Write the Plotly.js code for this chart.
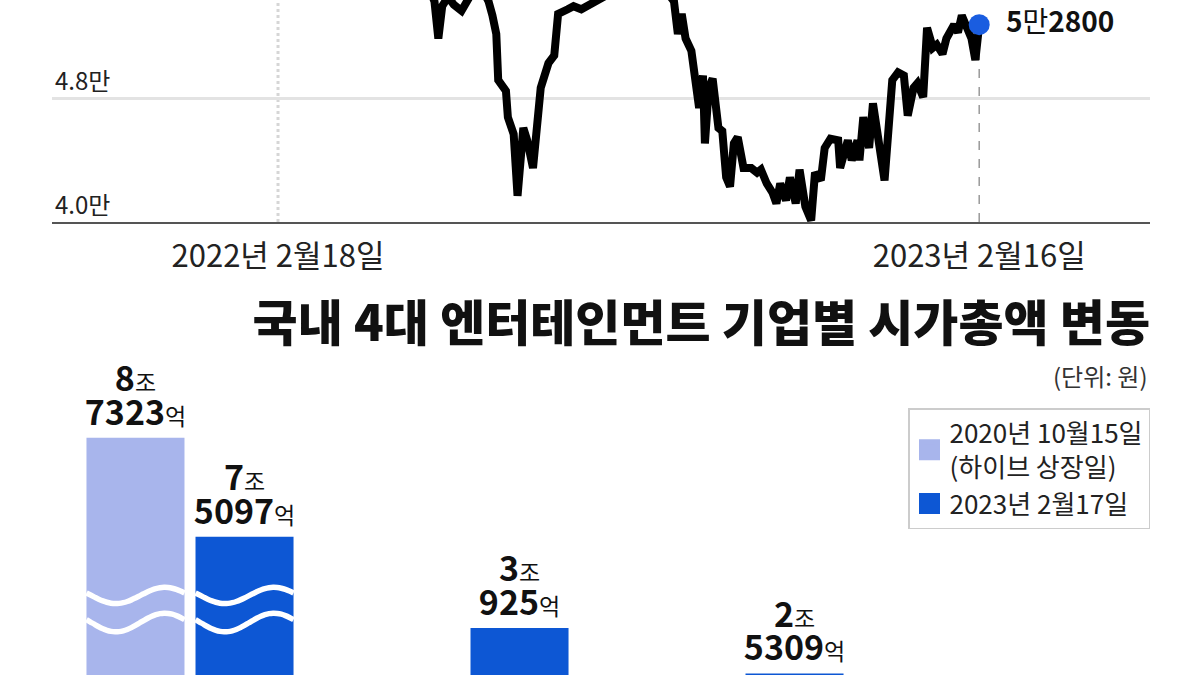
<!DOCTYPE html>
<html>
<head>
<meta charset="utf-8">
<script src="https://cdn.plot.ly/plotly-3.0.1.min.js"></script>
<style>
  html, body { margin: 0; padding: 0; background: #ffffff; }
  #chart { width: 1200px; height: 675px; }
</style>
</head>
<body>
<div id="chart"></div>
<script>
// ---------- Top line chart data (stock price, won) ----------
const priceDates = [
  '2022-05-06','2022-05-10','2022-05-12','2022-05-14','2022-05-17','2022-05-20','2022-05-24','2022-05-27','2022-05-30',
  '2022-06-03','2022-06-07','2022-06-09','2022-06-11','2022-06-12','2022-06-16','2022-06-17','2022-06-20','2022-06-22',
  '2022-06-25','2022-06-27','2022-06-30','2022-07-04','2022-07-08','2022-07-11','2022-07-13','2022-07-18','2022-07-21',
  '2022-07-25','2022-07-28','2022-07-31','2022-08-04','2022-08-12','2022-08-20','2022-08-30','2022-09-07','2022-09-11',
  '2022-09-13','2022-09-15','2022-09-17','2022-09-20','2022-09-22','2022-09-24','2022-09-26','2022-09-27','2022-09-29',
  '2022-10-01','2022-10-04','2022-10-06','2022-10-08','2022-10-10','2022-10-12','2022-10-14','2022-10-17','2022-10-21',
  '2022-10-24','2022-10-26','2022-10-29','2022-11-01','2022-11-03','2022-11-05','2022-11-08','2022-11-10','2022-11-13',
  '2022-11-15','2022-11-18','2022-11-21','2022-11-23','2022-11-26','2022-11-28','2022-12-01','2022-12-05','2022-12-06',
  '2022-12-10','2022-12-12','2022-12-15','2022-12-16','2022-12-18','2022-12-21','2022-12-23','2022-12-26','2022-12-29',
  '2023-01-02','2023-01-05','2023-01-08','2023-01-10','2023-01-13','2023-01-15','2023-01-18','2023-01-20','2023-01-23',
  '2023-01-25','2023-01-28','2023-01-30','2023-02-03','2023-02-05','2023-02-07','2023-02-10','2023-02-12','2023-02-14',
  '2023-02-16'
];
const priceValues = [
  55600,54300,51900,54000,54600,54100,53700,54200,55000,
  55300,54300,53400,52200,49200,48500,46800,45700,41700,
  46100,45300,43500,48700,50300,50800,53500,53800,54000,
  53800,54000,54300,54600,55000,55600,55600,55000,54300,
  52200,53500,51900,51100,49400,47400,49500,45100,48700,
  49300,46100,45900,42900,42300,45100,45500,43500,43500,
  43200,43400,42500,41900,41200,42500,41400,42900,41200,
  43400,41000,40100,43200,42700,44800,45400,45300,43500,
  45300,44000,45300,44000,46800,44800,47700,45300,42700,
  49200,49700,49500,46900,48700,49000,48100,52600,51300,
  51500,50900,51900,52800,52300,53400,52600,51900,50500,
  52800
];
const priceTickVals = [40000, 48000];
const priceTickText = ['4.0만', '4.8만'];
const dateTickVals = ['2022-02-18', '2023-02-16'];
const dateTickText = ['2022년 2월18일', '2023년 2월16일'];

// ---------- Bottom bar chart data (market cap, 억원) ----------
const companies = ['하이브', 'SM엔터', 'JYP엔터', 'YG엔터'];
const seriesNames = ['2020년 10월15일<br>(하이브 상장일)', '2023년 2월17일'];
const cap20201015 = [87323, 6700, 13900, 10000];
const cap20230217 = [75097, 30925, 25309, 9870];

// ---------- styling constants ----------
const FONT = "'Noto Sans CJK KR', 'Noto Sans', sans-serif";
const LIGHT = '#a8b5ec';
const DARK = '#0d57d4';
const BREAK_AT = 50000;      // bars above this are drawn with an axis break
const BREAK_CUT = 32900;     // amount removed by the break
const BARGAP = 0.207, BARGROUPGAP = 0.101;

function manWon(v) {
  const man = Math.floor(v / 10000), rest = v % 10000;
  return '<b>' + man + '</b>만<b>' + rest + '</b>';
}
function joEok(v) {
  const jo = Math.floor(v / 10000), eok = v % 10000;
  const big = s => '<span style="font-size:34px"><b>' + s + '</b></span>';
  const small = s => '<span style="font-size:23px">' + s + '</span>';
  if (jo === 0) return big(eok) + small('억');
  return big(jo) + small('조') + '<br>' + big(eok) + small('억');
}
const shown = arr => arr.map(v => v > BREAK_AT ? v - BREAK_CUT : v);
const idx = companies.map((c, i) => i);

const traces = [];
// line
traces.push({
  type: 'scatter', mode: 'lines', x: priceDates, y: priceValues,
  xaxis: 'x', yaxis: 'y', showlegend: false, hoverinfo: 'skip',
  line: { color: '#000000', width: 8, shape: 'linear' }
});
// last point marker
const lastI = priceValues.length - 1;
traces.push({
  type: 'scatter', mode: 'markers+text',
  x: [priceDates[lastI]], y: [priceValues[lastI]],
  text: ['  ' + manWon(priceValues[lastI])], textposition: 'middle right',
  textfont: { family: FONT, size: 28, color: '#111' },
  marker: { size: 21, color: '#1a5de0' }, cliponaxis: false,
  xaxis: 'x', yaxis: 'y', showlegend: false, hoverinfo: 'skip'
});
// bars (legend shown through matching square-marker entries below)
[cap20201015, cap20230217].forEach((vals, s) => {
  traces.push({
    type: 'bar', name: seriesNames[s], x: idx, y: shown(vals),
    xaxis: 'x2', yaxis: 'y2', legendgroup: 'g' + s, showlegend: false,
    marker: { color: s === 0 ? LIGHT : DARK, line: { width: 0 } },
    text: vals.map(joEok), textposition: 'outside', cliponaxis: false,
    constraintext: 'none',
    textfont: { family: FONT, size: 26, color: '#111' },
    hoverinfo: 'skip'
  });
});
[0, 1].forEach(s => {
  traces.push({
    type: 'scatter', mode: 'markers', name: seriesNames[s], x: [null], y: [null],
    xaxis: 'x2', yaxis: 'y2', legendgroup: 'g' + s, showlegend: true,
    marker: { symbol: 'square', size: 16, color: s === 0 ? LIGHT : DARK,
              line: { width: 5, color: s === 0 ? LIGHT : DARK } },
    hoverinfo: 'skip'
  });
});
// axis-break waves on broken bars
const slot = (1 - BARGAP) / 2;
const barW = slot * (1 - BARGROUPGAP);
const WAVE_CENTERS = [34940, 31600], WAVE_AMP = 1000;
[cap20201015, cap20230217].forEach((vals, s) => {
  vals.forEach((v, i) => {
    if (v <= BREAK_AT) return;
    const cx = i + (s === 0 ? -slot / 2 : slot / 2);
    WAVE_CENTERS.forEach((c, w) => {
      const xs = [], ys = [];
      const amp = WAVE_AMP * (w === 0 ? 1 : 1.15);
      for (let k = 0; k <= 24; k++) {
        const t = k / 24;
        xs.push(cx - barW / 2 + t * barW);
        ys.push(c - amp * Math.sin(2 * Math.PI * (t - 0.05)));
      }
      traces.push({
        type: 'scatter', mode: 'lines', x: xs, y: ys, xaxis: 'x2', yaxis: 'y2',
        line: { color: '#ffffff', width: 5.5, shape: 'spline' },
        showlegend: false, hoverinfo: 'skip'
      });
    });
  });
});

const layout = {
  width: 1200, height: 675,
  margin: { l: 0, r: 0, t: 0, b: 0 },
  paper_bgcolor: '#ffffff', plot_bgcolor: 'rgba(0,0,0,0)',
  font: { family: FONT, color: '#222' },
  showlegend: true,
  barmode: 'group', bargap: BARGAP, bargroupgap: BARGROUPGAP,
  title: {
    text: '국내 4대 엔터테인먼트 기업별 시가총액 변동',
    font: { family: FONT, size: 49, weight: 900, color: '#111' },
    x: 1150 / 1200, xanchor: 'right', xref: 'paper',
    y: 1 - 324 / 675, yanchor: 'middle', yref: 'container'
  },
  xaxis: {
    type: 'date', domain: [52 / 1200, 1150 / 1200], anchor: 'y',
    range: ['2021-10-24', '2023-05-15 10:00'],
    tickmode: 'array', tickvals: dateTickVals, ticktext: dateTickText,
    ticks: '', showgrid: false, zeroline: false,
    showline: true, linecolor: '#555', linewidth: 2,
    tickfont: { family: FONT, size: 31, color: '#222' },
    ticklabelstandoff: 6, fixedrange: true
  },
  yaxis: {
    domain: [1 - 222 / 675, 1], anchor: 'x',
    range: [40000, 54400],
    tickmode: 'array', tickvals: priceTickVals, ticktext: priceTickText,
    ticklabelposition: 'inside top', ticks: '',
    showgrid: true, gridcolor: '#e3e3e3', gridwidth: 3,
    zeroline: false, showline: false,
    tickfont: { family: FONT, size: 24, color: '#222' }, fixedrange: true
  },
  xaxis2: {
    domain: [52.5 / 1200, 1152.5 / 1200], anchor: 'y2',
    range: [-0.5, 3.5], tickmode: 'array', tickvals: idx, ticktext: companies,
    showticklabels: false, ticks: '', showgrid: false, zeroline: false, showline: false,
    fixedrange: true
  },
  yaxis2: {
    domain: [0, 1 - 360 / 675], anchor: 'x2',
    range: [25120, 64010],
    visible: false, showgrid: false, zeroline: false, fixedrange: true
  },
  legend: {
    x: 1150 / 1200, xanchor: 'right', xref: 'paper',
    y: 1 - 408 / 675, yanchor: 'top', yref: 'paper',
    bgcolor: '#ffffff', bordercolor: '#cccccc', borderwidth: 1.5,
    font: { family: FONT, size: 26, color: '#222' },
    traceorder: 'normal', tracegroupgap: 2, itemwidth: 30, itemsizing: 'trace'
  },
  shapes: [
    { type: 'line', xref: 'x', yref: 'y domain', x0: dateTickVals[0], x1: dateTickVals[0], y0: 0, y1: 1,
      line: { color: '#d6d6d6', width: 3, dash: 'dot' }, layer: 'below' },
    { type: 'line', xref: 'x', yref: 'y', x0: priceDates[lastI], x1: priceDates[lastI],
      y0: priceTickVals[0], y1: priceValues[lastI],
      line: { color: '#999999', width: 1.5, dash: 'dash' }, layer: 'below' }
  ],
  annotations: [
    { text: '(단위: 원)', xref: 'paper', yref: 'paper', x: 1150 / 1200, xanchor: 'right',
      y: 1 - 375 / 675, yanchor: 'middle', showarrow: false,
      font: { family: FONT, size: 24, color: '#333' } }
  ]
};

Plotly.newPlot('chart', traces, layout, { displayModeBar: false, staticPlot: true });
</script>
</body>
</html>
